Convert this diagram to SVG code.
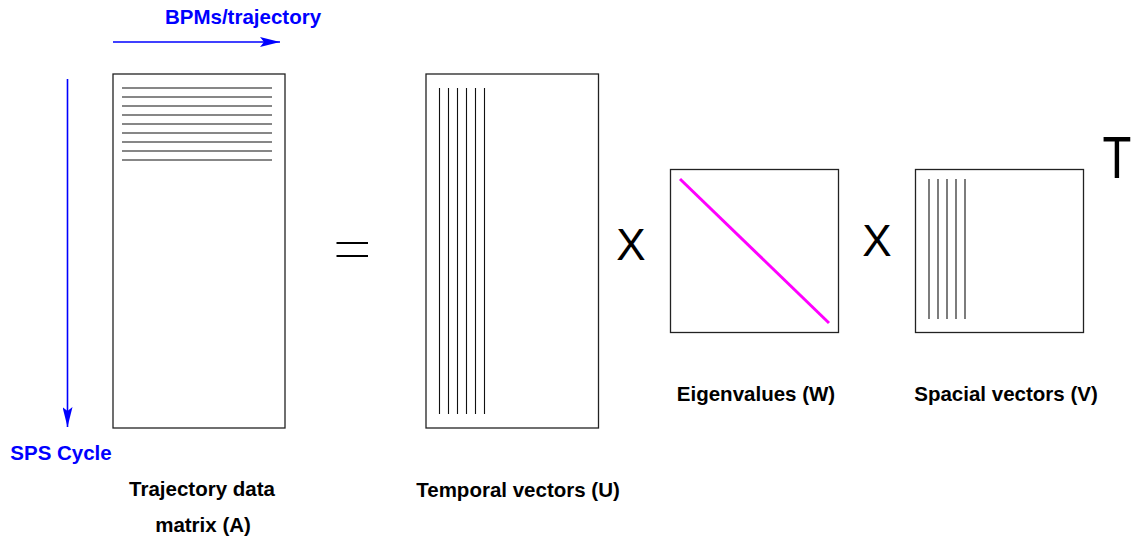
<svg xmlns="http://www.w3.org/2000/svg" width="1133" height="541" viewBox="0 0 1133 541">
<style>
.box{fill:#fff;stroke:#222;stroke-width:1.3}
.ln{stroke:#111;stroke-width:1.1}
.lbl{font-family:"Liberation Sans",Arial,sans-serif;font-weight:bold;font-size:20.5px;fill:#000;text-anchor:middle}
.blue{fill:#0000ff}
.op{font-family:"Liberation Sans",Arial,sans-serif;font-size:44px;fill:#000;text-anchor:middle}
.arr{stroke:#0000ff;stroke-width:1.6;fill:none}
</style>
<defs>
<marker id="ah" viewBox="0 0 20 10" refX="20" refY="5" markerWidth="20" markerHeight="10" markerUnits="userSpaceOnUse" orient="auto">
<path d="M0,0 L20,5 L0,10 L4,5 Z" fill="#0000ff"/>
</marker>
</defs>
<rect width="1133" height="541" fill="#fff"/>
<g id="connectors">
<line class="arr" x1="113" y1="42" x2="280" y2="42" marker-end="url(#ah)"/>
<line class="arr" x1="67.5" y1="79" x2="67.5" y2="427" marker-end="url(#ah)"/>
</g>
<g id="axis-labels">
<text class="lbl blue" x="243" y="24">BPMs/trajectory</text>
<text class="lbl blue" x="61" y="460">SPS Cycle</text>
</g>
<g id="matrixA">
<rect class="box" x="113" y="74" width="172" height="354"/>
<g class="ln">
<line x1="122" y1="88" x2="272" y2="88"/>
<line x1="122" y1="97" x2="272" y2="97"/>
<line x1="122" y1="106" x2="272" y2="106"/>
<line x1="122" y1="115" x2="272" y2="115"/>
<line x1="122" y1="124" x2="272" y2="124"/>
<line x1="122" y1="133" x2="272" y2="133"/>
<line x1="122" y1="142" x2="272" y2="142"/>
<line x1="122" y1="151" x2="272" y2="151"/>
<line x1="122" y1="160" x2="272" y2="160"/>
</g>
<text class="lbl" x="202" y="496">Trajectory data</text>
<text class="lbl" x="203" y="532">matrix (A)</text>
</g>
<g id="equals">
<line x1="336.5" y1="243" x2="368" y2="243" stroke="#000" stroke-width="2"/>
<line x1="336.5" y1="256" x2="368" y2="256" stroke="#000" stroke-width="2"/>
</g>
<g id="matrixU">
<rect class="box" x="426" y="74" width="172.5" height="354"/>
<g class="ln">
<line x1="439.5" y1="88" x2="439.5" y2="414"/>
<line x1="448.5" y1="88" x2="448.5" y2="414"/>
<line x1="457.5" y1="88" x2="457.5" y2="414"/>
<line x1="466.5" y1="88" x2="466.5" y2="414"/>
<line x1="475.5" y1="88" x2="475.5" y2="414"/>
<line x1="484.5" y1="88" x2="484.5" y2="414"/>
</g>
<text class="lbl" x="518" y="497">Temporal vectors (U)</text>
</g>
<g id="times1">
<text class="op" x="631" y="260">X</text>
</g>
<g id="matrixW">
<rect class="box" x="670.5" y="169.5" width="168" height="163"/>
<line x1="680" y1="179" x2="829" y2="323" stroke="#ff00ff" stroke-width="3"/>
<text class="lbl" x="756" y="401">Eigenvalues (W)</text>
</g>
<g id="times2">
<text class="op" x="877" y="256">X</text>
</g>
<g id="matrixV">
<rect class="box" x="915.5" y="169.5" width="168" height="163"/>
<g class="ln">
<line x1="929" y1="179" x2="929" y2="319"/>
<line x1="938" y1="179" x2="938" y2="319"/>
<line x1="947" y1="179" x2="947" y2="319"/>
<line x1="956" y1="179" x2="956" y2="319"/>
<line x1="965" y1="179" x2="965" y2="319"/>
</g>
<text class="lbl" x="1006" y="401">Spacial vectors (V)</text>
<text transform="translate(1117,178) scale(0.8,1)" font-family="Liberation Sans, Arial, sans-serif" font-size="59" text-anchor="middle" fill="#000">T</text>
</g>
</svg>
